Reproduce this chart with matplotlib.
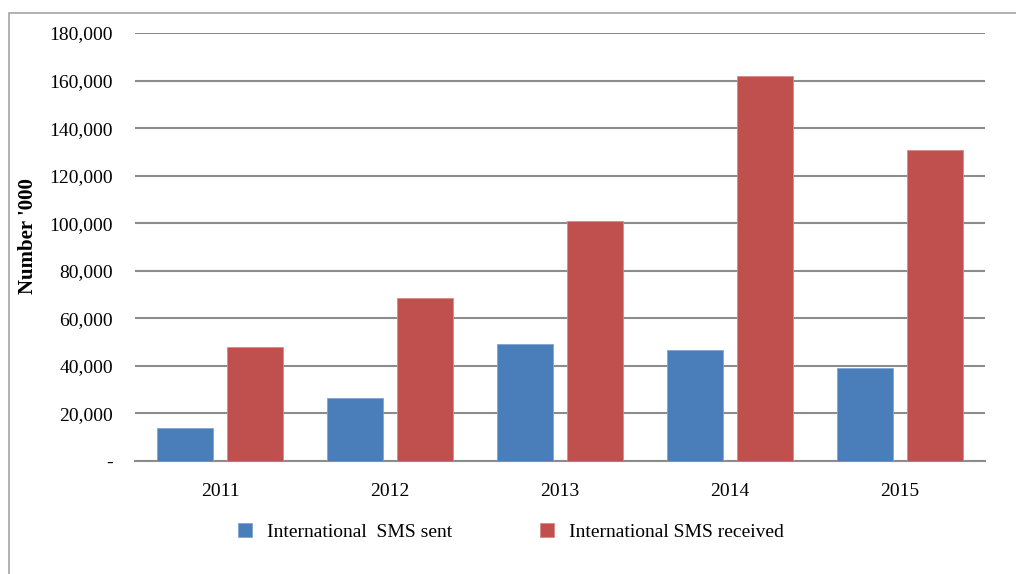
import numpy as np
import matplotlib.pyplot as plt
from matplotlib.patches import Rectangle
from matplotlib.ticker import FuncFormatter

years = ['2011', '2012', '2013', '2014', '2015']
sms_sent = [14000, 26400, 49100, 46500, 39000]
sms_received = [48100, 68500, 100900, 161900, 130800]

plt.rcParams['font.family'] = ['Liberation Serif', 'DejaVu Serif']

fig = plt.figure(figsize=(10.16, 5.74), dpi=100)
ax = fig.add_axes([135/1016, 1 - 461/574, 850/1016, 428/574])

# outer frame (only top and left visible in the original)
fig.patches.append(Rectangle((9/1016, -0.5), 2, 1 - 13/574 + 0.5,
                             transform=fig.transFigure, fill=False,
                             edgecolor='#a6a6a6', linewidth=1.2))

x = np.arange(len(years))
w = 0.335
off = 0.206
ax.bar(x - off, sms_sent, w, color='#4a7ebb', edgecolor='#7fa4d3', linewidth=0.6,
       label='International  SMS sent', zorder=3)
ax.bar(x + off, sms_received, w, color='#c0504d', edgecolor='#d98a88', linewidth=0.6,
       label='International SMS received', zorder=3)

ax.set_xlim(-0.5, len(years) - 0.5)
ax.set_ylim(0, 180000)
ax.set_yticks(np.arange(0, 180001, 20000))
ax.yaxis.set_major_formatter(FuncFormatter(lambda v, p: '-' if v == 0 else f'{int(v):,}'))
ax.set_xticks(x)
ax.set_xticklabels(years)
ax.tick_params(length=0, labelsize=14, colors='black')
ax.tick_params(axis='y', pad=16)
ax.tick_params(axis='x', pad=16)
ax.grid(axis='y', color='#8c8c8c', linewidth=1.5, zorder=0)
for s in ['top', 'right', 'left']:
    ax.spines[s].set_visible(False)
ax.spines['bottom'].set_color('#8c8c8c')
ax.spines['bottom'].set_linewidth(1.5)

fig.text(28/1016, 1 - 236/574, "Number '000", rotation=90, ha='center', va='center',
         fontsize=15, fontweight='bold')

fig.legend(loc='center', bbox_to_anchor=(511/1016, 1 - 532/574), ncol=2, frameon=False,
           fontsize=14, handlelength=0.7, handleheight=0.7, handletextpad=0.8,
           columnspacing=4.5)

fig.savefig('out.png', dpi=100, facecolor='white')
